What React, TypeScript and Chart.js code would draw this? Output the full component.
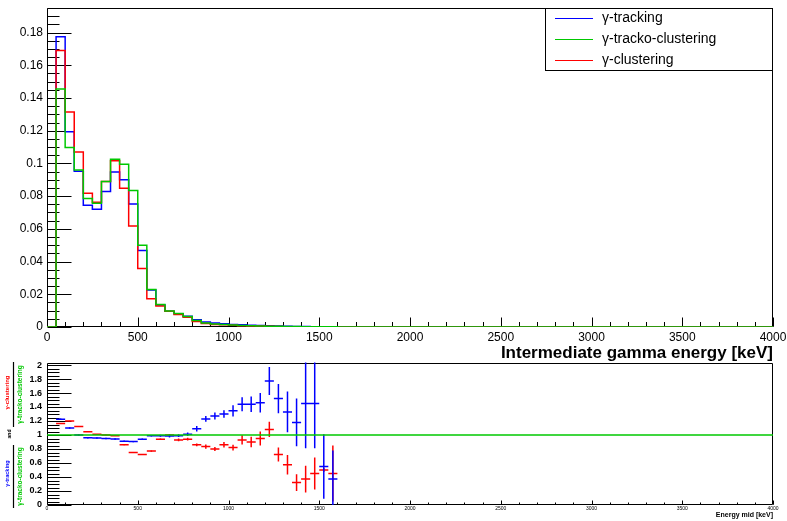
import React, { useEffect, useRef } from 'react';
import { Chart, registerables } from 'chart.js';

Chart.register(...registerables);

// ---------- DATA ----------
// Histogram bins (lower edges, keV), bin width 50 keV
const binLowEdges = [0, 50, 100, 150, 200, 250, 300, 350, 400, 450, 500, 550, 600, 650, 700, 750,
  800, 850, 900, 950, 1000, 1050, 1100, 1150, 1200, 1250, 1300, 1350, 1400, 1450, 1500, 1550];
const histTailEdges = [1600, 4000];

const gammaTracking = [0, 0.1774, 0.1193, 0.0952, 0.0744, 0.0720, 0.0828, 0.0948, 0.0900, 0.0752,
  0.0468, 0.0226, 0.0135, 0.0097, 0.0081, 0.0065, 0.0044, 0.0031, 0.0024, 0.0020, 0.0016, 0.0013,
  0.0010, 0.0009, 0.0007, 0.0006, 0.0004, 0.0003, 0.0003, 0.0002, 0.00005, 0.00004];
const gammaTrackoClustering = [0, 0.1455, 0.1097, 0.0960, 0.0785, 0.0756, 0.0889, 0.1026, 0.0995, 0.0834,
  0.0500, 0.0229, 0.0137, 0.0098, 0.0082, 0.0064, 0.0040, 0.0025, 0.0019, 0.0015, 0.0012, 0.0009,
  0.0007, 0.0006, 0.0004, 0.0004, 0.0003, 0.00025, 0.0002, 0.00015, 0.0001, 0.0001];
const gammaClustering = [0, 0.1690, 0.1314, 0.1069, 0.0817, 0.0762, 0.0890, 0.1016, 0.0848, 0.0617,
  0.0358, 0.0172, 0.0128, 0.0097, 0.0076, 0.0059, 0.0034, 0.0021, 0.0015, 0.0013, 0.0010, 0.0008,
  0.0006, 0.0006, 0.0004, 0.0003, 0.0002, 0.0001, 0.0001, 0.0001, 0.00005, 0.00005];

// Ratio panel (bin centres, keV)
const ratioCenters = [75, 125, 175, 225, 275, 325, 375, 425, 475, 525, 575, 625, 675, 725, 775, 825,
  875, 925, 975, 1025, 1075, 1125, 1175, 1225, 1275, 1325, 1375, 1425, 1475, 1525, 1575];
const ratioHalfWidth = 25;
const trackingRatio = [1.226, 1.10, 1.0, 0.96, 0.957, 0.95, 0.943, 0.91, 0.906, 0.94, 0.99, 0.99,
  0.985, 0.99, 1.01, 1.09, 1.23, 1.27, 1.30, 1.345, 1.44, 1.44, 1.46, 1.77, 1.52, 1.33, 1.18, 1.45,
  1.45, 0.55, 0.37];
const trackingRatioErr = [0.01, 0.01, 0.01, 0.01, 0.01, 0.01, 0.01, 0.01, 0.01, 0.01, 0.01, 0.015,
  0.02, 0.02, 0.025, 0.04, 0.04, 0.05, 0.055, 0.08, 0.10, 0.11, 0.14, 0.20, 0.21, 0.29, 0.34, 0.64,
  0.64, 0.46, 0.41];
const clusteringRatio = [1.165, 1.20, 1.12, 1.047, 1.01, 1.0, 0.99, 0.86, 0.75, 0.72, 0.77, 0.94,
  1.0, 0.93, 0.94, 0.86, 0.835, 0.80, 0.86, 0.82, 0.93, 0.90, 0.95, 1.08, 0.72, 0.575, 0.32, 0.37,
  0.45, 0.50, 0.45];
const clusteringRatioErr = [0.005, 0.005, 0.005, 0.005, 0.005, 0.005, 0.005, 0.005, 0.005, 0.005,
  0.01, 0.01, 0.015, 0.02, 0.02, 0.02, 0.03, 0.03, 0.04, 0.04, 0.065, 0.075, 0.1, 0.11, 0.1, 0.14,
  0.12, 0.19, 0.23, 0.03, 0.4];
const unityLine = [{ x: 0, y: 1 }, { x: 4000, y: 1 }];

// Tick labels
const xTickValues = [0, 500, 1000, 1500, 2000, 2500, 3000, 3500, 4000];
const xTickLabels = ['0', '500', '1000', '1500', '2000', '2500', '3000', '3500', '4000'];
const topYTickValues = [0, 0.02, 0.04, 0.06, 0.08, 0.1, 0.12, 0.14, 0.16, 0.18];
const topYTickLabels = ['0', '0.02', '0.04', '0.06', '0.08', '0.1', '0.12', '0.14', '0.16', '0.18'];
const botYTickValues = [0, 0.2, 0.4, 0.6, 0.8, 1, 1.2, 1.4, 1.6, 1.8, 2];
const botYTickLabels = ['0', '0.2', '0.4', '0.6', '0.8', '1', '1.2', '1.4', '1.6', '1.8', '2'];

const seriesNames = ['\u03b3-tracking', '\u03b3-tracko-clustering', '\u03b3-clustering'];
const topXTitle = 'Intermediate gamma energy [keV]';
const botXTitle = 'Energy mid [keV]';

// ---------- STYLE ----------
const BLUE = '#0000ff';
const GREEN = '#00c800';
const RED = '#ff0000';
const FONT = "'Liberation Sans', Arial, Helvetica, sans-serif";

function histData(vals: number[]) {
  return binLowEdges.map((x, i) => ({ x, y: vals[i] })).concat(histTailEdges.map((x) => ({ x, y: 0 })));
}
function hBars(vals: number[]) {
  const out: any[] = [];
  ratioCenters.forEach((c, i) => {
    out.push({ x: c - ratioHalfWidth, y: vals[i] }, { x: c + ratioHalfWidth, y: vals[i] }, { x: c, y: null });
  });
  return out;
}
function vBars(vals: number[], errs: number[]) {
  const out: any[] = [];
  ratioCenters.forEach((c, i) => {
    out.push({ x: c, y: vals[i] - errs[i] }, { x: c, y: vals[i] + errs[i] }, { x: c, y: null });
  });
  return out;
}
function range(a: number, b: number, step: number) {
  const r: number[] = [];
  for (let v = a; v <= b + 1e-9; v += step) r.push(+v.toFixed(6));
  return r;
}

function drawFrameAndTicks(chart: any, spec: any) {
  const ctx = chart.ctx;
  const a = chart.chartArea;
  const xs = chart.scales.x;
  const ys = chart.scales.y;
  ctx.save();
  ctx.strokeStyle = '#000';
  ctx.lineWidth = 1;
  ctx.beginPath();
  const L = Math.round(a.left) + 0.5, R = Math.round(a.right) - 0.5;
  const T = Math.round(a.top) + 0.5, B = Math.round(a.bottom) - 0.5;
  ctx.rect(L, T, R - L, B - T);
  spec.yMinor.forEach((v: number) => {
    const y = Math.round(ys.getPixelForValue(v)) + 0.5;
    if (y < T || y > B) return;
    ctx.moveTo(L, y); ctx.lineTo(L + spec.yMinorLen, y);
  });
  spec.yMajor.forEach((v: number) => {
    const y = Math.round(ys.getPixelForValue(v)) + 0.5;
    ctx.moveTo(L, y); ctx.lineTo(L + spec.yMajorLen, y);
  });
  spec.xMinor.forEach((v: number) => {
    const x = Math.round(xs.getPixelForValue(v)) + 0.5;
    ctx.moveTo(x, B); ctx.lineTo(x, B - spec.xMinorLen);
  });
  spec.xMajor.forEach((v: number) => {
    const x = Math.round(xs.getPixelForValue(v)) + 0.5;
    ctx.moveTo(x, B); ctx.lineTo(x, B - spec.xMajorLen);
  });
  ctx.stroke();
  ctx.restore();
}

function rotText(ctx: any, text: string, cx: number, cy: number, font: string, color: string) {
  ctx.save();
  ctx.translate(cx, cy);
  ctx.rotate(-Math.PI / 2);
  ctx.font = font;
  ctx.fillStyle = color;
  ctx.textAlign = 'center';
  ctx.textBaseline = 'middle';
  ctx.fillText(text, 0, 0);
  ctx.restore();
}

const noScalePadding = (s: any) => {
  s.paddingTop = 0; s.paddingBottom = 0; s.paddingLeft = 0; s.paddingRight = 0;
};

const topPlugin = {
  id: 'topDecor',
  beforeDatasetsDraw(chart: any) {
    drawFrameAndTicks(chart, {
      yMajor: topYTickValues, yMinor: range(0, 0.195, 0.005), yMajorLen: 24, yMinorLen: 12,
      xMajor: xTickValues, xMinor: range(0, 4000, 100), xMajorLen: 9, xMinorLen: 4.5,
    });
  },
  afterDraw(chart: any) {
    const ctx = chart.ctx;
    const a = chart.chartArea;
    ctx.save();
    const lx = 545.5, ly = Math.round(a.top) + 0.5, lw = Math.round(a.right) - 0.5 - 545.5, lh = 62;
    ctx.fillStyle = '#fff';
    ctx.fillRect(lx, ly, lw, lh);
    ctx.strokeStyle = '#000';
    ctx.lineWidth = 1;
    ctx.strokeRect(lx, ly, lw, lh);
    const colors = [BLUE, GREEN, RED];
    const rows = [18.5, 39.5, 60.5];
    ctx.font = `14px ${FONT}`;
    ctx.textBaseline = 'middle';
    ctx.textAlign = 'left';
    seriesNames.forEach((n, i) => {
      ctx.strokeStyle = colors[i];
      ctx.beginPath();
      ctx.moveTo(555, rows[i]);
      ctx.lineTo(593, rows[i]);
      ctx.stroke();
      ctx.fillStyle = '#000';
      ctx.fillText(n, 602, rows[i]);
    });
    ctx.font = `bold 17px ${FONT}`;
    ctx.textAlign = 'right';
    ctx.textBaseline = 'alphabetic';
    ctx.fillStyle = '#000';
    ctx.fillText(topXTitle, a.right, 357.5);
    ctx.restore();
  },
};

const botPlugin = {
  id: 'botDecor',
  beforeDatasetsDraw(chart: any) {
    drawFrameAndTicks(chart, {
      yMajor: botYTickValues, yMinor: range(0, 2.04, 0.05), yMajorLen: 24, yMinorLen: 12,
      xMajor: xTickValues, xMinor: range(0, 4000, 100), xMajorLen: 4, xMinorLen: 2,
    });
  },
  afterDraw(chart: any) {
    const ctx = chart.ctx;
    const a = chart.chartArea;
    ctx.save();
    ctx.font = `bold 7px ${FONT}`;
    ctx.textAlign = 'right';
    ctx.textBaseline = 'alphabetic';
    ctx.fillStyle = '#000';
    ctx.fillText(botXTitle, a.right, 161);
    rotText(ctx, seriesNames[2], 7, 36.5, `bold 6px ${FONT}`, RED);
    rotText(ctx, seriesNames[1], 20, 38.5, `bold 6.5px ${FONT}`, GREEN);
    rotText(ctx, 'and', 10, 78, `bold 5px ${FONT}`, '#000');
    rotText(ctx, seriesNames[0], 7, 117.5, `bold 5.5px ${FONT}`, BLUE);
    rotText(ctx, seriesNames[1], 20, 120.5, `bold 6.5px ${FONT}`, GREEN);
    ctx.strokeStyle = '#000';
    ctx.lineWidth = 1.2;
    ctx.beginPath();
    ctx.moveTo(13.5, 6); ctx.lineTo(13.5, 71);
    ctx.moveTo(13.5, 89); ctx.lineTo(13.5, 152);
    ctx.stroke();
    ctx.restore();
  },
};

function topConfig(): any {
  const ds = (label: string, vals: number[], color: string, order: number) => ({
    label, data: histData(vals), borderColor: color, borderWidth: 1.5, pointRadius: 0,
    stepped: true, fill: false, order, borderCapStyle: 'butt', borderJoinStyle: 'miter',
  });
  return {
    type: 'line',
    data: {
      datasets: [
        ds(seriesNames[0], gammaTracking, BLUE, 2),
        ds(seriesNames[1], gammaTrackoClustering, GREEN, 0),
        ds(seriesNames[2], gammaClustering, RED, 1),
      ],
    },
    options: {
      animation: false, responsive: true, maintainAspectRatio: false, devicePixelRatio: 1,
      layout: { padding: { left: 0, right: 14, top: 7.5, bottom: 0 } },
      plugins: { legend: { display: false }, tooltip: { enabled: false } },
      events: [],
      scales: {
        x: {
          type: 'linear', min: 0, max: 4000,
          grid: { display: false, drawTicks: false }, border: { display: false },
          afterFit: (s: any) => { s.height = 35; noScalePadding(s); },
          afterBuildTicks: (s: any) => { s.ticks = xTickValues.map((v) => ({ value: v })); },
          ticks: {
            autoSkip: false, maxRotation: 0, padding: 3, color: '#000',
            font: { family: FONT, size: 12 },
            callback: (_v: any, i: number) => xTickLabels[i],
          },
        },
        y: {
          type: 'linear', min: 0, max: 0.1953,
          grid: { display: false, drawTicks: false }, border: { display: false },
          afterFit: (s: any) => { s.width = 47; noScalePadding(s); },
          afterBuildTicks: (s: any) => { s.ticks = topYTickValues.map((v) => ({ value: v })); },
          ticks: {
            autoSkip: false, padding: 4, color: '#000',
            font: { family: FONT, size: 12 },
            callback: (_v: any, i: number) => topYTickLabels[i],
          },
        },
      },
    },
    plugins: [topPlugin],
  };
}

function botConfig(): any {
  const seg = (data: any[], color: string, order: number) => ({
    data, borderColor: color, borderWidth: 1.5, pointRadius: 0, fill: false, spanGaps: false,
    order, borderCapStyle: 'butt',
  });
  return {
    type: 'line',
    data: {
      datasets: [
        seg(unityLine, GREEN, 0),
        seg(hBars(trackingRatio), BLUE, 1),
        seg(vBars(trackingRatio, trackingRatioErr), BLUE, 1),
        seg(hBars(clusteringRatio), RED, 2),
        seg(vBars(clusteringRatio, clusteringRatioErr), RED, 2),
      ],
    },
    options: {
      animation: false, responsive: true, maintainAspectRatio: false, devicePixelRatio: 1,
      layout: { padding: { left: 0, right: 14, top: 6.5, bottom: 0 } },
      plugins: { legend: { display: false }, tooltip: { enabled: false } },
      events: [],
      scales: {
        x: {
          type: 'linear', min: 0, max: 4000,
          grid: { display: false, drawTicks: false }, border: { display: false },
          afterFit: (s: any) => { s.height = 16; noScalePadding(s); },
          afterBuildTicks: (s: any) => { s.ticks = xTickValues.map((v) => ({ value: v })); },
          ticks: {
            autoSkip: false, maxRotation: 0, padding: 1, color: '#000',
            font: { family: FONT, size: 5 },
            callback: (_v: any, i: number) => xTickLabels[i],
          },
        },
        y: {
          type: 'linear', min: 0, max: 2.036,
          grid: { display: false, drawTicks: false }, border: { display: false },
          afterFit: (s: any) => { s.width = 47; noScalePadding(s); },
          afterBuildTicks: (s: any) => { s.ticks = botYTickValues.map((v) => ({ value: v })); },
          ticks: {
            autoSkip: false, padding: 5, color: '#000',
            font: { family: FONT, size: 9, weight: 'bold' },
            callback: (_v: any, i: number) => botYTickLabels[i],
          },
        },
      },
    },
    plugins: [botPlugin],
  };
}

export default function App() {
  const topRef = useRef<HTMLCanvasElement>(null);
  const botRef = useRef<HTMLCanvasElement>(null);
  useEffect(() => {
    const top = new Chart(topRef.current as HTMLCanvasElement, topConfig());
    const bot = new Chart(botRef.current as HTMLCanvasElement, botConfig());
    return () => { top.destroy(); bot.destroy(); };
  }, []);
  return (
    <div style={{ position: 'fixed', left: 0, top: 0, width: 787, height: 521, background: '#fff' }}>
      <div style={{ position: 'absolute', left: 0, top: 0, width: 787, height: 362 }}>
        <canvas ref={topRef} />
      </div>
      <div style={{ position: 'absolute', left: 0, top: 356, width: 787, height: 165 }}>
        <canvas ref={botRef} />
      </div>
    </div>
  );
}
